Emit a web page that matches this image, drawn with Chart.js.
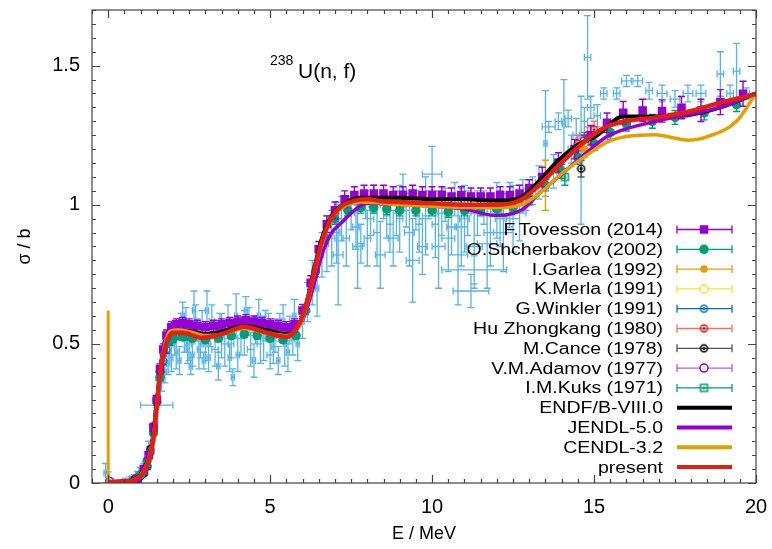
<!DOCTYPE html>
<html>
<head>
<meta charset="utf-8">
<script src="https://cdn.jsdelivr.net/npm/chart.js@4.4.1/dist/chart.umd.min.js"></script>
<style>
    body { margin: 0; background: #fff; }
    #wrap { width: 772px; height: 549px; }
</style>
</head>
<body>
<div id="wrap"><canvas id="myChart" width="772" height="549"></canvas></div>
<script>
/* 238U(n,f) 단면적 비교 */

// 축
const xTicks = [0, 5, 10, 15, 20];
const xTickLabels = ['0', '5', '10', '15', '20'];
const yTicks = [0, 0.5, 1, 1.5];
const yTickLabels = ['0', '0.5', '1', '1.5'];

// 평가 데이터 [E, sigma]
const present = [[0,0.004],[0.4,0.005],[0.7,0.008],[0.9,0.015],[1.0,0.025],[1.1,0.04],[1.2,0.065],[1.3,0.1],[1.4,0.16],[1.5,0.27],[1.6,0.39],[1.7,0.46],[1.8,0.505],[1.9,0.53],[2.0,0.54],[2.3,0.54],[2.9,0.522],[3.5,0.535],[4.2,0.562],[4.9,0.54],[5.5,0.525],[5.75,0.545],[6.0,0.6],[6.2,0.68],[6.4,0.78],[6.6,0.87],[6.9,0.955],[7.2,0.995],[7.6,1.015],[8.0,1.02],[8.5,1.012],[9.0,1.01],[10,1.005],[11,1.0],[12,1.0],[12.7,1.015],[13.3,1.07],[14,1.152],[14.8,1.236],[15.4,1.281],[16,1.301],[17,1.315],[18,1.337],[18.9,1.367],[20,1.398]];
const endf = [[0,0.003],[0.5,0.006],[0.8,0.012],[1.0,0.03],[1.2,0.075],[1.3,0.115],[1.4,0.18],[1.5,0.29],[1.6,0.4],[1.7,0.47],[1.8,0.51],[1.9,0.535],[2.0,0.545],[2.5,0.545],[3.0,0.535],[3.5,0.545],[4.2,0.565],[4.9,0.55],[5.5,0.535],[5.8,0.55],[6.0,0.6],[6.2,0.68],[6.4,0.79],[6.6,0.88],[6.9,0.96],[7.3,1.005],[7.8,1.025],[9,1.025],[10,1.02],[11,1.02],[12,1.015],[12.7,1.025],[13.3,1.085],[13.9,1.16],[14.5,1.215],[15.1,1.25],[15.9,1.317],[17,1.317],[17.9,1.322],[18.9,1.35],[20,1.40]];
const jendl = [[0,0.002],[0.8,0.01],[1.0,0.028],[1.2,0.075],[1.4,0.18],[1.5,0.28],[1.6,0.4],[1.7,0.48],[1.8,0.53],[1.9,0.555],[2.1,0.565],[2.6,0.56],[3.1,0.555],[3.6,0.565],[4.2,0.578],[4.9,0.565],[5.5,0.55],[5.8,0.56],[6.0,0.585],[6.3,0.69],[6.6,0.82],[6.9,0.9],[7.2,0.935],[7.6,0.98],[8.0,1.005],[9,1.0],[10,0.995],[11,0.985],[11.9,0.962],[12.75,0.98],[13.3,1.04],[14,1.11],[14.8,1.19],[15.4,1.245],[16.9,1.30],[18.9,1.35],[20,1.40]];
const cendl = [[0,0.003],[0.5,0.005],[0.8,0.012],[1.0,0.028],[1.2,0.07],[1.3,0.11],[1.4,0.17],[1.5,0.28],[1.6,0.39],[1.7,0.47],[1.8,0.52],[1.9,0.545],[2.1,0.55],[2.5,0.545],[3.0,0.53],[3.5,0.535],[4.2,0.555],[4.9,0.54],[5.5,0.53],[5.8,0.55],[6.0,0.59],[6.2,0.67],[6.4,0.77],[6.6,0.86],[6.9,0.95],[7.3,0.995],[7.8,1.01],[9,1.0],[10,0.995],[11,0.99],[12,0.99],[12.75,1.0],[13.36,1.045],[13.98,1.11],[14.8,1.18],[15.4,1.225],[16.0,1.245],[16.9,1.252],[17.4,1.242],[17.9,1.232],[18.5,1.245],[19.4,1.30],[20,1.40]];
const cendlThermal = [[0,0.62],[0,0]];

// 실험 데이터 [E, sigma, dE, dsigma]
const tovesson = [[0.9,0.015,0,0.005],[1.1,0.05,0,0.008],[1.25,0.1,0,0.01],[1.4,0.2,0,0.012],[1.5,0.3,0,0.015],[1.6,0.41,0,0.018],[1.7,0.48,0,0.02],[1.8,0.53,0,0.02],[1.95,0.56,0,0.02],[2.1,0.57,0,0.02],[2.3,0.575,0,0.02],[2.5,0.57,0,0.02],[2.75,0.565,0,0.02],[3.0,0.56,0,0.02],[3.25,0.565,0,0.02],[3.5,0.57,0,0.02],[3.75,0.575,0,0.02],[4.0,0.58,0,0.02],[4.25,0.585,0,0.02],[4.5,0.58,0,0.02],[4.75,0.575,0,0.02],[5.0,0.57,0,0.02],[5.25,0.565,0,0.02],[5.5,0.56,0,0.02],[5.75,0.57,0,0.02],[6.0,0.62,0,0.022],[6.25,0.72,0,0.025],[6.5,0.84,0,0.028],[6.75,0.93,0,0.03],[7.0,0.98,0,0.03],[7.3,1.02,0,0.03],[7.6,1.035,0,0.03],[7.9,1.04,0,0.03],[8.2,1.04,0,0.03],[8.5,1.04,0,0.03],[8.8,1.035,0,0.03],[9.1,1.035,0,0.03],[9.4,1.04,0,0.03],[9.7,1.035,0,0.03],[10.0,1.035,0,0.03],[10.3,1.035,0,0.03],[10.6,1.03,0,0.03],[10.9,1.035,0,0.03],[11.2,1.03,0,0.03],[11.5,1.03,0,0.03],[11.8,1.03,0,0.03],[12.1,1.035,0,0.03],[12.4,1.035,0,0.03],[12.7,1.04,0,0.03],[13.0,1.06,0,0.03],[13.4,1.1,0,0.035],[13.9,1.152,0,0.035],[14.4,1.2,0,0.035],[14.9,1.25,0,0.035],[15.4,1.295,0,0.035],[15.9,1.331,0,0.04],[16.5,1.339,0,0.04],[17.1,1.337,0,0.04],[17.7,1.349,0,0.04],[18.3,1.339,0,0.04],[18.9,1.369,0,0.045],[19.6,1.399,0,0.045]];
const shcherbakov = [[1.0,0.03,0,0.005],[1.2,0.08,0,0.008],[1.4,0.18,0,0.01],[1.6,0.38,0,0.012],[1.8,0.5,0,0.012],[2.0,0.52,0,0.012],[2.3,0.525,0,0.012],[2.6,0.52,0,0.012],[3.0,0.515,0,0.012],[3.4,0.52,0,0.012],[3.8,0.53,0,0.012],[4.2,0.535,0,0.012],[4.6,0.53,0,0.012],[5.0,0.52,0,0.012],[5.4,0.515,0,0.012],[5.8,0.53,0,0.012],[6.1,0.62,0,0.015],[6.4,0.76,0,0.018],[6.7,0.88,0,0.02],[7.0,0.95,0,0.02],[7.4,0.98,0,0.02],[7.8,0.99,0,0.02],[8.2,0.99,0,0.02],[8.6,0.985,0,0.02],[9.0,0.98,0,0.02],[9.5,0.98,0,0.02],[10,0.98,0,0.02],[10.5,0.975,0,0.02],[11,0.98,0,0.02],[11.5,0.98,0,0.02],[12,0.985,0,0.02],[12.5,0.99,0,0.02],[13,1.02,0,0.02],[13.5,1.07,0,0.02],[14,1.12,0,0.025],[14.5,1.17,0,0.025],[15,1.22,0,0.025],[15.5,1.26,0,0.025],[16,1.29,0,0.025],[16.8,1.3,0,0.025],[17.5,1.314,0,0.025],[18.4,1.33,0,0.025],[19.4,1.36,0,0.025]];
const garlea = [[13.5,1.07,0,0.09],[14.7,1.2,0,0.03]];
const merla = [[14.7,1.21,0,0.02]];
const winkler = [[1.2,0.06,0,0.005],[1.3,0.11,0,0.008],[1.4,0.2,0,0.01],[1.5,0.29,0,0.012],[1.6,0.38,0,0.012],[1.7,0.44,0,0.015],[1.8,0.48,0,0.015],[1.9,0.51,0,0.015],[2.0,0.52,0,0.015],[2.2,0.53,0,0.015],[2.4,0.53,0,0.015],[14.7,1.22,0,0.03]];
const huZhongkang = [[14.5,1.22,0,0.03],[14.8,1.25,0,0.03],[15.0,1.27,0,0.03]];
const cance = [[0.8,0.012,0,0.004],[0.9,0.018,0,0.005],[1.0,0.025,0,0.006],[1.1,0.035,0,0.008],[1.2,0.06,0,0.01],[1.3,0.12,0,0.012],[1.4,0.2,0,0.015],[1.5,0.3,0,0.015],[1.6,0.4,0,0.02],[14.6,1.13,0,0.03]];
const adamov = [[0.05,0.005,0,0.01],[14.7,1.23,0,0.03]];
const kuks = [[14.1,1.1,0,0.03]];
const otherExp = [[-0.08,0.035,0.05,0.035],[0.0,0.02,0.03,0.02],[0.5,0.008,0.05,0.005],[0.6,0.01,0.05,0.006],[0.7,0.015,0.05,0.008],[0.8,0.02,0.05,0.01],[0.9,0.03,0.05,0.012],[1.0,0.04,0.05,0.015],[1.1,0.05,0.05,0.02],[1.2,0.08,0.05,0.03],[1.25,0.12,0.05,0.03],[1.5,0.28,0.5,0.01],[1.35,0.18,0.05,0.03],[1.45,0.25,0.05,0.03],[1.55,0.33,0.05,0.04],[1.65,0.37,0.05,0.04],[1.75,0.4,0.05,0.04],[1.85,0.43,0.05,0.04],[1.95,0.45,0.05,0.05],
    [2.05,0.5,0.05,0.04],[2.1,0.47,0.05,0.06],[2.15,0.55,0.05,0.03],[2.2,0.44,0.05,0.05],[2.25,0.57,0.05,0.04],[2.3,0.6,0.05,0.05],[2.35,0.52,0.05,0.05],[2.4,0.55,0.05,0.08],[2.45,0.48,0.05,0.05],[2.5,0.5,0.08,0.06],[2.55,0.42,0.05,0.03],[2.6,0.46,0.05,0.04],[2.65,0.62,0.05,0.07],[2.7,0.58,0.05,0.06],[2.75,0.55,0.1,0.04],[2.8,0.48,0.05,0.07],[2.85,0.5,0.05,0.05],[2.9,0.57,0.05,0.05],[2.95,0.44,0.05,0.03],[3.0,0.5,0.05,0.06],[3.05,0.62,0.05,0.07],[3.1,0.45,0.05,0.05],[3.15,0.53,0.05,0.04],[3.2,0.58,0.08,0.06],[3.3,0.48,0.1,0.06],[3.4,0.42,0.05,0.05],[3.45,0.56,0.05,0.05],[3.5,0.53,0.05,0.08],[3.6,0.5,0.1,0.08],[3.7,0.58,0.05,0.06],[3.75,0.45,0.05,0.05],[3.8,0.5,0.08,0.05],[3.85,0.38,0.05,0.03],[3.95,0.6,0.05,0.08],[4.0,0.46,0.05,0.06],[4.1,0.52,0.1,0.06],[4.2,0.54,0.05,0.08],[4.25,0.62,0.05,0.05],[4.35,0.58,0.05,0.05],[4.4,0.48,0.1,0.06],[4.5,0.44,0.05,0.06],[4.55,0.55,0.05,0.05],[4.65,0.6,0.05,0.06],[4.7,0.5,0.1,0.07],[4.8,0.52,0.05,0.08],[4.85,0.57,0.05,0.05],[4.95,0.56,0.05,0.05],[5.0,0.46,0.1,0.05],[5.1,0.49,0.05,0.06],[5.15,0.53,0.05,0.06],[5.25,0.44,0.05,0.05],[5.3,0.56,0.1,0.05],[5.4,0.58,0.05,0.06],[5.45,0.5,0.05,0.08],[5.55,0.47,0.05,0.07],[5.6,0.55,0.05,0.05],[5.7,0.52,0.05,0.06],[5.75,0.6,0.05,0.06],[5.85,0.5,0.05,0.06],
    [6.0,0.58,0.05,0.06],[6.15,0.65,0.05,0.07],[6.3,0.72,0.05,0.08],[6.45,0.7,0.05,0.1],[6.6,0.82,0.05,0.08],[6.75,0.86,0.05,0.1],[6.9,0.88,0.1,0.1],[7.05,0.9,0.1,0.11],[7.1,0.82,0.15,0.18],[7.2,0.95,0.1,0.08],[7.35,0.88,0.1,0.1],[7.5,0.97,0.1,0.06],[7.65,0.92,0.1,0.08],[7.7,0.85,0.15,0.15],[7.8,0.86,0.1,0.07],[7.95,1.0,0.1,0.05],
    [8.0,0.88,0.1,0.1],[8.1,0.95,0.1,0.06],[8.2,1.02,0.1,0.05],[8.3,0.9,0.1,0.12],[8.4,0.82,0.15,0.12],[8.5,1.0,0.1,0.05],[8.6,0.96,0.1,0.08],[8.7,0.93,0.1,0.1],[8.8,0.88,0.15,0.1],[8.9,0.97,0.1,0.08],[9.0,0.95,0.1,0.12],[9.1,1.05,0.1,0.06],[9.2,0.98,0.1,0.06],[9.3,0.9,0.15,0.12],[9.4,0.8,0.2,0.15],[9.5,0.98,0.1,0.07],[9.6,0.93,0.1,0.1],[9.7,0.85,0.15,0.1],[9.8,0.96,0.1,0.14],[9.9,1.0,0.1,0.05],[10.0,1.11,0.3,0.1],[10.1,0.93,0.1,0.12],[10.2,0.85,0.2,0.15],[10.3,0.97,0.15,0.08],[10.4,1.0,0.1,0.06],[10.5,0.88,0.2,0.12],[10.6,0.92,0.15,0.1],[10.7,1.02,0.1,0.06],[10.8,0.82,0.3,0.18],[10.9,0.92,0.2,0.14],[11.0,0.95,0.15,0.12],[11.1,0.97,0.1,0.08],[11.3,0.85,0.25,0.15],[11.3,0.766,1.0,0.05],[11.2,0.69,0.55,0.06],[11.4,0.97,0.2,0.08],[11.6,0.99,0.1,0.06],[11.7,0.86,0.3,0.16],[11.8,0.9,0.2,0.12],[12.0,0.98,0.15,0.1],[12.1,0.95,0.15,0.1],[12.2,0.9,0.3,0.14],[12.4,1.0,0.15,0.08],[12.5,0.95,0.2,0.12],[12.7,0.97,0.2,0.1],[12.8,1.03,0.1,0.06],
    [12.9,1.02,0.1,0.04],[13.1,1.05,0.1,0.05],[13.3,1.08,0.1,0.06],[13.5,1.22,0.05,0.19],[13.6,1.28,0.2,0.02],[13.75,1.12,0.1,0.06],[13.9,1.3,0.1,0.03],[14.07,1.29,0.05,0.16],[14.2,1.31,0.1,0.03],[14.3,1.2,0.1,0.05],[14.45,1.25,0.1,0.06],[14.6,1.16,0.05,0.23],[14.7,1.3,0.1,0.05],[14.8,1.53,0.1,0.15],[14.9,1.35,0.1,0.04],[15.1,1.32,0.1,0.04],[15.3,1.40,0.1,0.02],[15.7,1.40,0.1,0.02],[16.0,1.445,0.15,0.02],[16.35,1.445,0.15,0.02],[16.7,1.41,0.1,0.03],[17.1,1.40,0.15,0.03],[17.5,1.38,0.15,0.03],[17.9,1.40,0.15,0.03],[18.3,1.40,0.15,0.03],[18.9,1.47,0.1,0.08],[19.2,1.40,0.1,0.03],[19.4,1.48,0.1,0.1],[19.7,1.40,0.1,0.02]];

function toLine(rows) {
    return rows.map(r => ({x: r[0], y: r[1]}));
}
function toErr(rows) {
    return rows.map(r => ({x: r[0], y: r[1], xerr: r[2], yerr: r[3]}));
}

// 마커 (원 + 점, 사각 + 점)
function dotMarker(color, r, square) {
    let c = document.createElement('canvas');
    let s = Math.ceil(2 * r + 4);
    c.width = s;
    c.height = s;
    let g = c.getContext('2d');
    g.strokeStyle = color;
    g.fillStyle = color;
    g.lineWidth = 1.5;
    g.beginPath();
    if (square) g.rect(s / 2 - r, s / 2 - r, 2 * r, 2 * r);
    else g.arc(s / 2, s / 2, r, 0, 2 * Math.PI);
    g.stroke();
    g.beginPath();
    g.arc(s / 2, s / 2, r * 0.45, 0, 2 * Math.PI);
    g.fill();
    return c;
}

function evalSet(label, rows, color, width, rank) {
    return {
        label: label, rank: rank, data: toLine(rows), showLine: true,
        borderColor: color, backgroundColor: color, borderWidth: width,
        pointRadius: 0, cubicInterpolationMode: 'monotone', isLine: true
    };
}
function expSet(label, rows, color, style, radius, fill, barColor, rank) {
    return {
        label: label, rank: rank, data: toErr(rows), showLine: false,
        pointStyle: style, pointRadius: radius, borderColor: color,
        backgroundColor: fill, pointBorderWidth: 1.5,
        errorBars: true, barColor: barColor || color
    };
}

const cendlThermalSet = evalSet('', cendlThermal, '#E69F00', 3, 99);
cendlThermalSet.cubicInterpolationMode = 'default';
cendlThermalSet.tension = 0;

const otherSet = expSet('', otherExp, '#56B4E9', 'circle', 0, '#56B4E9', '#56B4E9', 99);
otherSet.barWidth = 1.3;

const datasets = [
    evalSet('present', present, '#E51E10', 4.5, 13),
    evalSet('CENDL-3.2', cendl, '#E69F00', 3.5, 12),
    cendlThermalSet,
    evalSet('JENDL-5.0', jendl, '#9400D3', 3.5, 11),
    evalSet('ENDF/B-VIII.0', endf, '#000000', 4, 10),
    expSet('F.Tovesson (2014)', tovesson, '#9400D3', 'rect', 5, '#9400D3', null, 1),
    expSet('O.Shcherbakov (2002)', shcherbakov, '#009E73', 'circle', 4, '#009E73', null, 2),
    expSet('I.Garlea (1992)', garlea, '#E69F00', 'circle', 3, '#E69F00', null, 3),
    expSet('K.Merla (1991)', merla, '#F0E442', 'circle', 4, '#ffffff', null, 4),
    expSet('G.Winkler (1991)', winkler, '#0072B2', dotMarker('#0072B2', 3.5), 4, '#0072B2', null, 5),
    expSet('Hu Zhongkang (1980)', huZhongkang, '#E51E10', dotMarker('#E51E10', 3.5), 4, '#E51E10', '#F07466', 6),
    expSet('M.Cance (1978)', cance, '#000000', dotMarker('#000000', 3.5), 4, '#000000', '#555555', 7),
    expSet('V.M.Adamov (1977)', adamov, '#9400D3', 'circle', 4, '#ffffff', '#B060E0', 8),
    expSet('I.M.Kuks (1971)', kuks, '#009E73', dotMarker('#009E73', 3.5, true), 4, '#009E73', null, 9),
    otherSet
];

/* 에러바 */
const errorBarPlugin = {
    id: 'errorBars',
    beforeDatasetDraw(chart, args) {
        let ds = chart.data.datasets[args.index];
        if (!ds.errorBars) return;
        let xs = chart.scales.x, ys = chart.scales.y, ctx = chart.ctx, a = chart.chartArea;
        let cap = 3.5;
        ctx.save();
        ctx.beginPath();
        ctx.rect(a.left, a.top, a.right - a.left, a.bottom - a.top);
        ctx.clip();
        ctx.strokeStyle = ds.barColor;
        ctx.lineWidth = ds.barWidth || 1.4;
        ctx.beginPath();
        ds.data.forEach(p => {
            let px = xs.getPixelForValue(p.x), py = ys.getPixelForValue(p.y);
            if (p.yerr) {
                let y1 = ys.getPixelForValue(p.y - p.yerr), y2 = ys.getPixelForValue(p.y + p.yerr);
                ctx.moveTo(px, y1); ctx.lineTo(px, y2);
                ctx.moveTo(px - cap, y1); ctx.lineTo(px + cap, y1);
                ctx.moveTo(px - cap, y2); ctx.lineTo(px + cap, y2);
            }
            if (p.xerr) {
                let x1 = xs.getPixelForValue(p.x - p.xerr), x2 = xs.getPixelForValue(p.x + p.xerr);
                ctx.moveTo(x1, py); ctx.lineTo(x2, py);
                ctx.moveTo(x1, py - cap); ctx.lineTo(x1, py + cap);
                ctx.moveTo(x2, py - cap); ctx.lineTo(x2, py + cap);
            }
        });
        ctx.stroke();
        ctx.restore();
    }
};

/* 테두리 + 안쪽 눈금 */
const framePlugin = {
    id: 'frame',
    afterDraw(chart) {
        let ctx = chart.ctx, a = chart.chartArea, xs = chart.scales.x, ys = chart.scales.y;
        ctx.save();
        ctx.strokeStyle = '#444';
        ctx.lineWidth = 1.2;
        ctx.strokeRect(a.left, a.top, a.right - a.left, a.bottom - a.top);
        ctx.beginPath();
        for (let v = -0.5; v <= 20.001; v += 0.5) {
            let len = xTicks.some(t => Math.abs(t - v) < 1e-6) ? 8 : 4;
            let px = Math.round(xs.getPixelForValue(v)) + 0.5;
            ctx.moveTo(px, a.bottom); ctx.lineTo(px, a.bottom - len);
            ctx.moveTo(px, a.top); ctx.lineTo(px, a.top + len);
        }
        for (let v = 0; v <= 1.7001; v += 0.05) {
            let len = yTicks.some(t => Math.abs(t - v) < 1e-6) ? 8 : 4;
            let py = Math.round(ys.getPixelForValue(v)) + 0.5;
            ctx.moveTo(a.left, py); ctx.lineTo(a.left + len, py);
            ctx.moveTo(a.right, py); ctx.lineTo(a.right - len, py);
        }
        ctx.stroke();

        // 반응 표시
        ctx.fillStyle = '#000';
        ctx.textBaseline = 'alphabetic';
        ctx.textAlign = 'left';
        ctx.font = '14px "Liberation Sans"';
        ctx.fillText('238', a.left + 178, 65);
        ctx.font = '21px "Liberation Sans"';
        ctx.fillText('U(n, f)', a.left + 206, 78);
        ctx.restore();
    }
};

/* 범례 */
const legendPlugin = {
    id: 'sideLegend',
    afterDraw(chart) {
        let ctx = chart.ctx;
        let items = chart.data.datasets.filter(d => d.label).sort((a, b) => a.rank - b.rank);
        let textRight = 663, lineL = 677, lineR = 732, mid = 704, top = 229.5, step = 19.8;
        items.forEach((d, i) => {
            let y = top + i * step;
            ctx.save();
            ctx.font = '16px "Liberation Sans"';
            ctx.fillStyle = '#000';
            ctx.textAlign = 'right';
            ctx.textBaseline = 'middle';
            ctx.translate(textRight, y);
            ctx.scale(1.22, 1);
            ctx.fillText(d.label, 0, 1);
            ctx.restore();

            ctx.save();
            if (d.isLine) {
                ctx.strokeStyle = d.borderColor;
                ctx.lineWidth = 4;
                ctx.beginPath();
                ctx.moveTo(lineL, y); ctx.lineTo(lineR, y);
                ctx.stroke();
            } else {
                ctx.strokeStyle = d.barColor;
                ctx.lineWidth = 1.3;
                ctx.beginPath();
                ctx.moveTo(lineL, y); ctx.lineTo(lineR, y);
                ctx.moveTo(lineL, y - 4); ctx.lineTo(lineL, y + 4);
                ctx.moveTo(lineR, y - 4); ctx.lineTo(lineR, y + 4);
                ctx.stroke();
                ctx.fillStyle = d.backgroundColor;
                ctx.strokeStyle = d.borderColor;
                ctx.lineWidth = 1.5;
                Chart.helpers.drawPoint(ctx, {
                    pointStyle: d.pointStyle, radius: d.pointRadius,
                    borderWidth: 1.5, rotation: 0
                }, mid, y);
            }
            ctx.restore();
        });
    }
};

let ctx = document.getElementById('myChart').getContext('2d');

let myChart = new Chart(ctx, {
    type: 'scatter',
    data: { datasets: datasets },
    options: {
        responsive: false,
        animation: false,
        layout: { padding: { top: 10, right: 16, left: 0, bottom: 0 } },
        plugins: {
            legend: { display: false },
            tooltip: { enabled: false }
        },
        scales: {
            x: {
                type: 'linear', min: -0.5, max: 20,
                afterBuildTicks: axis => { axis.ticks = xTicks.map(v => ({ value: v })); },
                afterFit: axis => { axis.height = 66; axis.paddingLeft = 0; axis.paddingRight = 0; },
                grid: { display: false, drawTicks: false },
                border: { display: false },
                ticks: {
                    padding: 12, color: '#000', maxRotation: 0,
                    font: { family: 'Liberation Sans', size: 20 },
                    callback: (v, i) => xTickLabels[i]
                },
                title: {
                    display: true, text: 'E / MeV', color: '#000',
                    font: { family: 'Liberation Sans', size: 18 },
                    padding: { top: 0, bottom: 4 }
                }
            },
            y: {
                type: 'linear', min: 0, max: 1.7,
                afterBuildTicks: axis => { axis.ticks = yTicks.map(v => ({ value: v })); },
                afterFit: axis => { axis.width = 92; axis.paddingTop = 0; axis.paddingBottom = 0; },
                grid: { display: false, drawTicks: false },
                border: { display: false },
                ticks: {
                    padding: 12, color: '#000',
                    font: { family: 'Liberation Sans', size: 20 },
                    callback: (v, i) => yTickLabels[i]
                },
                title: {
                    display: true, text: 'σ / b', color: '#000',
                    font: { family: 'Liberation Sans', size: 18 },
                    padding: { top: 14, bottom: 0 }
                }
            }
        }
    },
    plugins: [errorBarPlugin, framePlugin, legendPlugin]
});
</script>
</body>
</html>
